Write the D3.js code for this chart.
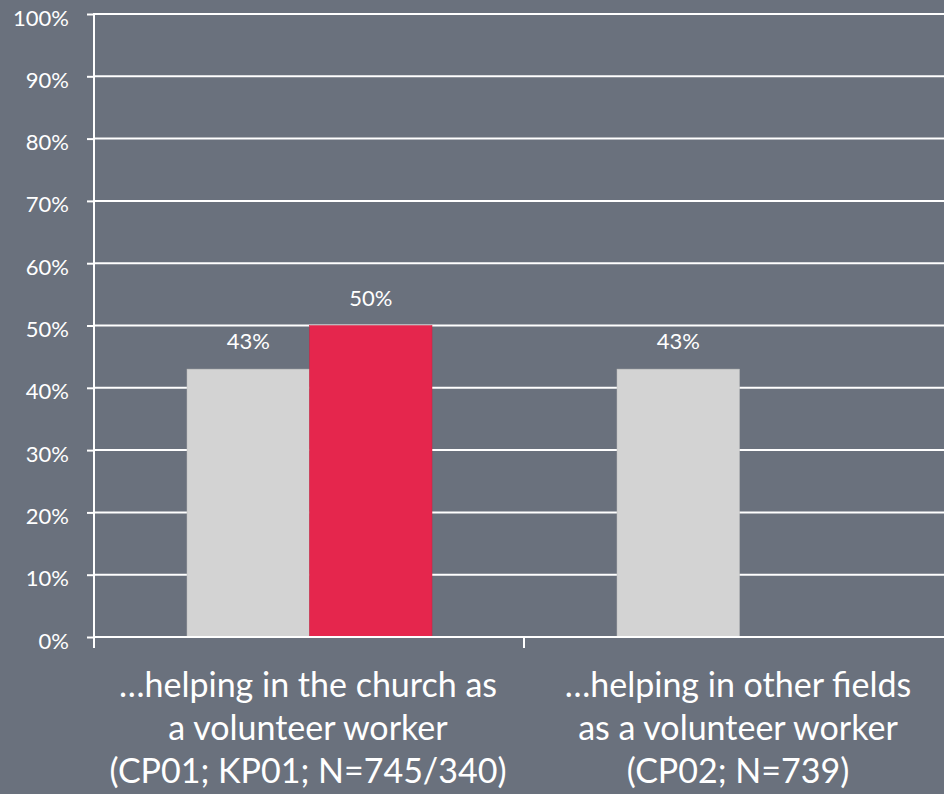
<!DOCTYPE html>
<html><head><meta charset="utf-8">
<script src="https://cdn.jsdelivr.net/npm/d3@7"></script>
<style>
html,body{margin:0;padding:0;background:#6a717d;overflow:hidden}
svg{display:block}
</style></head>
<body><svg id="c" width="944" height="794"></svg>
<script>
const categories = [
  ["…helping in the church as", "a volunteer worker", "(CP01; KP01; N=745/340)"],
  ["…helping in other fields", "as a volunteer worker", "(CP02; N=739)"]
];
const seriesNames = ["CP", "KP"];
const cpValues = [43, 43];
const kpValues = [50, null];
const yTicks = [0,10,20,30,40,50,60,70,80,90,100];
const colors = {CP:"#d3d3d3", KP:"#e5264d"};

(function(){
const FONT = "Lato, 'Open Sans', sans-serif";
const svg = d3.select("#c");
const W = 944, H = 794;
svg.append("rect").attr("width",W).attr("height",H).attr("fill","#6a717d");

const mLeft = 94, mTop = 14, mBottom = 637;
const catW = 430;
const x = d3.scaleBand().domain([0,1]).range([mLeft, mLeft + 2*catW]).padding(0);
const xs = d3.scaleBand().domain(seriesNames).range([93, 338]).padding(0);
const y = d3.scaleLinear().domain([0,100]).range([mBottom, mTop]);

svg.append("g").selectAll("line").data(yTicks).join("line")
  .attr("x1", mLeft).attr("x2", W).attr("y1", d=>y(d)).attr("y2", d=>y(d))
  .attr("stroke","#ffffff").attr("stroke-width",2);

const yAxis = d3.axisLeft(y).tickValues(yTicks).tickFormat(d=>d+"%").tickSize(7).tickPadding(18);
const ya = svg.append("g").attr("transform",`translate(${mLeft},0)`).call(yAxis);
ya.select(".domain").remove();
ya.selectAll(".tick line").attr("stroke","#fff").attr("stroke-width",2);
ya.selectAll(".tick text").attr("fill","#fff").attr("dy","0.5em")
  .style("font-family",FONT).style("font-size","22px");
svg.append("line").attr("x1",mLeft).attr("x2",mLeft).attr("y1",mTop-1).attr("y2",mBottom+11)
  .attr("stroke","#fff").attr("stroke-width",2);

const data = [];
categories.forEach((c,i)=>{
  data.push({cat:i, s:"CP", v:cpValues[i]});
  data.push({cat:i, s:"KP", v:kpValues[i]});
});
const valid = data.filter(d=>d.v!=null);
svg.append("g").selectAll("rect").data(valid).join("rect")
  .attr("x", d=>x(d.cat)+xs(d.s))
  .attr("width", xs.bandwidth())
  .attr("y", d=>y(d.v))
  .attr("height", d=>mBottom - y(d.v))
  .attr("fill", d=>colors[d.s])
  .attr("stroke", d=> d.s==="CP" ? "#bdbdbd" : "#c9203f").attr("stroke-width",0.5);

svg.append("g").selectAll("text").data(valid).join("text")
  .attr("x", d=>x(d.cat)+xs(d.s)+xs.bandwidth()/2)
  .attr("y", d=>y(d.v)-20)
  .attr("text-anchor","middle")
  .attr("fill","#fff")
  .style("font-family",FONT).style("font-size","22px")
  .text(d=>d.v+"%");

svg.append("line").attr("x1",mLeft).attr("x2",W).attr("y1",mBottom).attr("y2",mBottom)
  .attr("stroke","#fff").attr("stroke-width",2);
svg.selectAll("line.ctick").data([1]).join("line").attr("class","ctick")
  .attr("x1", d=>x(d)).attr("x2", d=>x(d)).attr("y1",mBottom).attr("y2",mBottom+11)
  .attr("stroke","#fff").attr("stroke-width",2);

const lab = svg.append("g").selectAll("text").data(categories).join("text")
  .attr("text-anchor","middle")
  .attr("fill","#fff")
  .style("font-family",FONT).style("font-size","34px");
lab.each(function(c,i){
  const t = d3.select(this);
  const cx = x(i)+x.bandwidth()/2 - 1;
  c.forEach((line,j)=>{
    t.append("tspan").attr("x",cx).attr("y",697+j*43).text(line);
  });
});
})();
</script></body></html>
